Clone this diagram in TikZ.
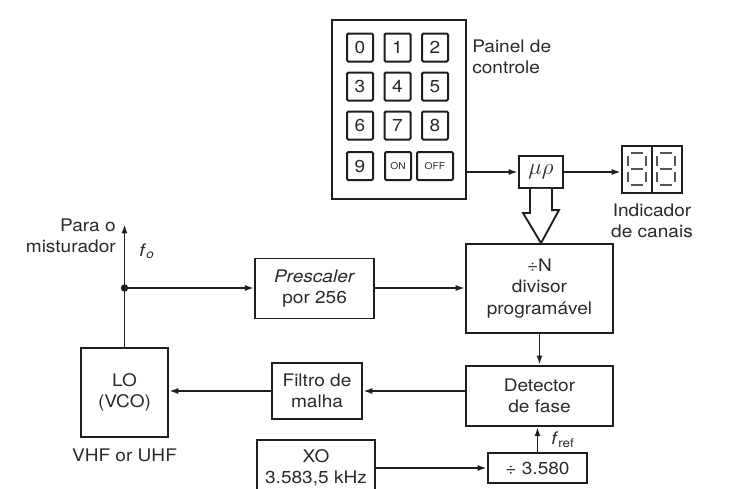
\documentclass[tikz,border=0pt]{standalone}
\usepackage{fontspec}
\setsansfont{TeX Gyre Heros}[FakeStretch=1.1]
\usepackage{tikz}
\usetikzlibrary{positioning,arrows.meta}
\definecolor{ink}{HTML}{1E1E1E}
\definecolor{txt}{HTML}{2A2A2A}
\definecolor{segc}{HTML}{555555}
% one digit of the channel display
\newcommand{\sevenseg}[1]{%
  \draw[seg] (#1+3,153) -- (#1+15,153);
  \draw[seg] (#1+3,169) -- (#1+15,169);
  \draw[seg] (#1+3,185) -- (#1+15,185);
  \foreach \sx in {#1,#1+18}{
    \draw[seg] (\sx,156) -- (\sx,166);
    \draw[seg] (\sx,172) -- (\sx,182);
  }}
\begin{document}
\begin{tikzpicture}[
  x=0.75pt, y=-0.75pt,
  font=\sffamily\fontsize{13}{16}\selectfont, text=txt,
  box/.style={draw=ink, line width=1.4pt, align=center, inner sep=2pt},
  key/.style={draw=ink, line width=1.5pt, rounded corners=1pt,
              minimum width=19.5pt, minimum height=21pt, inner sep=0pt},
  seg/.style={draw=segc, line width=1.3pt},
  ar/.style={-{Latex[length=7pt,width=4.5pt]}, draw=ink, line width=1.4pt},
  hollow/.style={draw=ink, line width=1.4pt, fill=white, line join=miter},
  lbl/.style={align=center, inner sep=0pt}
]
\path[use as bounding box, clip] (0,0) rectangle (740,489);
\fill[white] (0,0) rectangle (740,489);
% keypad
\node[box, minimum width=100.5pt, minimum height=134.25pt] (pad) at (399,109.5) {};
\foreach \k in {0,...,8}{
  \pgfmathsetmacro\kx{360+37.5*mod(\k,3)}
  \pgfmathsetmacro\ky{47.5+39*int(\k/3)}
  \node[key] (k\k) at (\kx,\ky) {\k};
}
\node[key] (k9) at (360,166) {9};
\node[key, font=\sffamily\scriptsize] (kon) at (398,166) {ON};
\node[key, font=\sffamily\scriptsize, minimum width=27pt] (koff) at (435,166) {OFF};
\node[lbl, anchor=west, align=left] (painel) at (472,57) {Painel de\\controle};
% microprocessor and display
\node[box, minimum width=33pt, minimum height=24pt, font=\fontsize{16}{16}\selectfont] (up) at (541,172) {$\mu\rho$};
\node[box, minimum width=45pt, minimum height=35.25pt] (disp) at (652,169.5) {};
\draw[ink, line width=1.4pt] (disp.north) -- (disp.south);
\sevenseg{628}
\sevenseg{657}
\node[lbl] (ind) at (652,221) {Indicador\\de canais};
% loop blocks
\node[box, minimum width=110.25pt, minimum height=66.75pt] (div) at (539.5,288.5) {÷N\\divisor\\programável};
\node[box, minimum width=89.25pt, minimum height=45pt, left=67.5pt of div] (pre) {\textit{Prescaler}\\por 256};
\node[box, minimum width=110.25pt, minimum height=45pt, below=23.25pt of div] (det) {Detector\\de fase};
\node[box, minimum width=67.5pt, minimum height=42pt] (fil) at (317,391) {Filtro de\\malha};
\node[box, minimum width=65.25pt, minimum height=66.75pt] (lo) at (124.5,392.5) {LO\\(VCO)};
\node[lbl] (band) at (124.5,455) {VHF or UHF};
\node[box, minimum width=88.5pt, minimum height=42pt] (xo) at (316,468) {XO\\3.583,5 kHz};
\node[box, minimum width=74.25pt, minimum height=22.5pt] (ref) at (537.5,468) {÷ 3.580};
\coordinate (jn) at (124.5,288);
\coordinate (mix) at (124.5,224);
\node[lbl, anchor=east, align=right] (para) at (116,236) {Para o\\misturador};
\node[lbl] (fo) at (147,251) {\textit{f}\textsubscript{\textit{o}}};
\node[lbl] (fref) at (563,440) {\textit{f}\textsubscript{ref}};
% connectors
\draw[ar] (pad.east |- up.west) -- (up.west);
\draw[ar] (up.east) -- (up.east -| disp.west);
\draw[hollow] ([xshift=-8.25pt]up.south) -- ++(0,24) -- ++(-7,0) -- (up.south |- div.north)
  -- ++(18,-33) -- ++(-7,0) -- ([xshift=8.25pt]up.south);
\draw[ar] (lo.north) -- (mix);
\fill[ink] (jn) circle (2.8pt);
\draw[ar] (jn) -- (jn -| pre.west);
\draw[ar] (pre.east |- jn) -- (jn -| div.west);
\draw[ar] (div.south) -- (det.north);
\draw[ar] (det.west |- fil.east) -- (fil.east);
\draw[ar] (fil.west) -- (fil.west -| lo.east);
\draw[ar] (xo.east) -- (ref.west);
\draw[ar] (ref.north) -- (ref.north |- det.south);
\end{tikzpicture}
\end{document}
